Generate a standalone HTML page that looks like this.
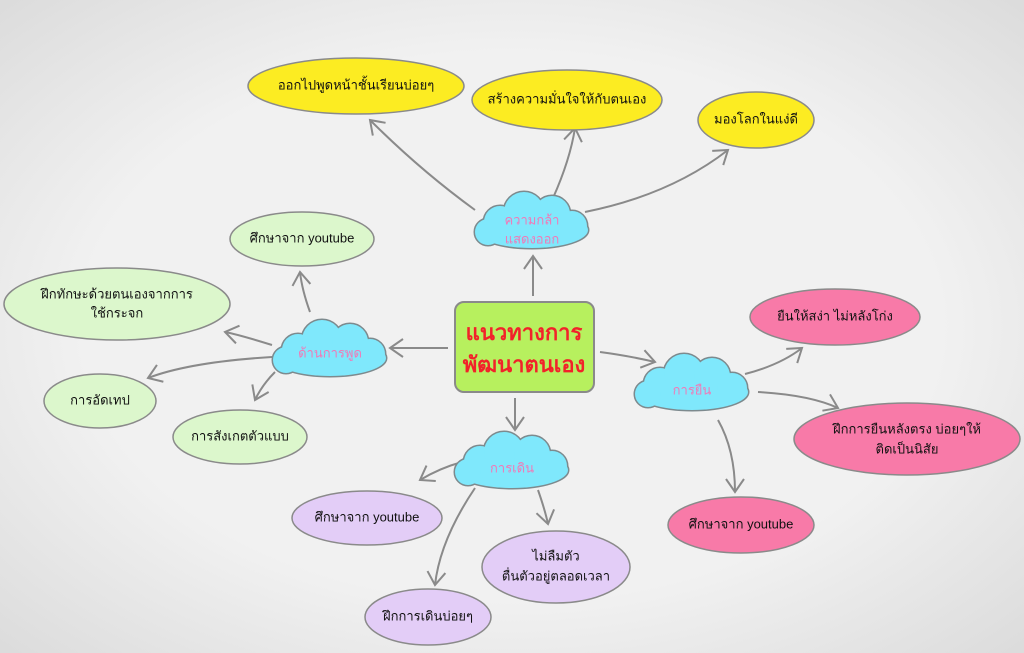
<!DOCTYPE html>
<html><head><meta charset="utf-8"><style>
html,body{margin:0;padding:0;width:1024px;height:653px;overflow:hidden;background:#efefef}
svg text{font-family:"Liberation Sans","DejaVu Sans",sans-serif;text-anchor:middle;dominant-baseline:middle}
</style></head><body>
<svg width="1024" height="653" viewBox="0 0 1024 653" xmlns="http://www.w3.org/2000/svg">
<defs>
<radialGradient id="bg" cx="50%" cy="50%" r="70%"><stop offset="0.6" stop-color="#f1f1f1"/><stop offset="1" stop-color="#dcdcdc"/></radialGradient>
<marker id="a" markerWidth="22" markerHeight="22" refX="15" refY="11" orient="auto" markerUnits="userSpaceOnUse">
<polyline points="2,2 15,11 2,20" fill="none" stroke="#8a8a8a" stroke-width="2"/></marker>
<g id="cl">
<ellipse cx="0" cy="8" rx="56" ry="18"/>
<circle cx="-32" cy="0" r="16"/><circle cx="-8" cy="-10" r="20"/><circle cx="20" cy="-8" r="18"/><circle cx="40" cy="4" r="15"/><circle cx="-44" cy="10" r="13"/>
</g>
</defs>
<rect width="1024" height="653" fill="url(#bg)"/>
<g fill="none" stroke="#8a8a8a" stroke-width="2" marker-end="url(#a)">
<path d="M475 210 Q420 170 370 120"/>
<path d="M553 198 Q570 160 575 128"/>
<path d="M585 212 Q670 195 728 150"/>
<path d="M533 296 L533 256"/>
<path d="M448 348 L390 348"/>
<path d="M600 352 Q630 356 655 362"/>
<path d="M515 398 L515 430"/>
<path d="M310 312 Q302 290 300 272"/>
<path d="M272 345 Q240 335 225 332"/>
<path d="M272 357 Q190 362 148 378"/>
<path d="M275 372 Q262 385 255 400"/>
<path d="M745 374 Q780 365 802 348"/>
<path d="M758 392 Q810 395 838 408"/>
<path d="M718 420 Q735 450 735 492"/>
<path d="M462 462 Q440 468 420 480"/>
<path d="M475 488 Q440 540 435 585"/>
<path d="M538 490 Q545 510 548 524"/>
</g>
<g fill="#7fe8fc" stroke="#7d8a8e" stroke-width="3">
<use href="#cl" transform="translate(532,222)"/>
<use href="#cl" transform="translate(330,350)"/>
<use href="#cl" transform="translate(692,384)"/>
<use href="#cl" transform="translate(512,462)"/>
</g>
<g fill="#7fe8fc" stroke="none">
<use href="#cl" transform="translate(532,222)"/>
<use href="#cl" transform="translate(330,350)"/>
<use href="#cl" transform="translate(692,384)"/>
<use href="#cl" transform="translate(512,462)"/>
</g>
<g fill="#f07ab8" font-size="13">
<text x="532" y="221">ความกล้า</text><text x="532" y="240">แสดงออก</text>
<text x="330" y="354">ด้านการพูด</text>
<text x="692" y="391">การยืน</text>
<text x="512" y="469">การเดิน</text>
</g>
<rect x="455" y="302" width="139" height="90" rx="9" fill="#b7f05e" stroke="#8a8a8a" stroke-width="2"/>
<g fill="#f2222a" font-size="22" font-weight="bold">
<text x="524" y="334">แนวทางการ</text><text x="524" y="366">พัฒนาตนเอง</text>
</g>
<g stroke="#8a8a8a" stroke-width="1.5">
<ellipse cx="356" cy="86" rx="108" ry="28" fill="#fcec22"/>
<ellipse cx="567" cy="100" rx="95" ry="30" fill="#fcec22"/>
<ellipse cx="756" cy="120" rx="58" ry="28" fill="#fcec22"/>
<ellipse cx="302" cy="239" rx="72" ry="27" fill="#dcf7cc"/>
<ellipse cx="117" cy="304" rx="113" ry="36" fill="#dcf7cc"/>
<ellipse cx="100" cy="401" rx="56" ry="27" fill="#dcf7cc"/>
<ellipse cx="240" cy="437" rx="67" ry="27" fill="#dcf7cc"/>
<ellipse cx="835" cy="317" rx="85" ry="28" fill="#f87aa8"/>
<ellipse cx="907" cy="439" rx="113" ry="36" fill="#f87aa8"/>
<ellipse cx="741" cy="525" rx="73" ry="28" fill="#f87aa8"/>
<ellipse cx="367" cy="518" rx="75" ry="27" fill="#e3cdf7"/>
<ellipse cx="556" cy="567" rx="74" ry="36" fill="#e3cdf7"/>
<ellipse cx="428" cy="617" rx="63" ry="28" fill="#e3cdf7"/>
</g>
<g fill="#111" font-size="13">
<text x="356" y="86">ออกไปพูดหน้าชั้นเรียนบ่อยๆ</text>
<text x="567" y="100">สร้างความมั่นใจให้กับตนเอง</text>
<text x="756" y="120">มองโลกในแง่ดี</text>
<text x="302" y="239">ศึกษาจาก youtube</text>
<text x="117" y="295">ฝึกทักษะด้วยตนเองจากการ</text><text x="117" y="314">ใช้กระจก</text>
<text x="100" y="401">การอัดเทป</text>
<text x="240" y="437">การสังเกตตัวแบบ</text>
<text x="835" y="317">ยืนให้สง่า  ไม่หลังโก่ง</text>
<text x="907" y="430">ฝึกการยืนหลังตรง บ่อยๆให้</text><text x="907" y="450">ติดเป็นนิสัย</text>
<text x="741" y="525">ศึกษาจาก youtube</text>
<text x="367" y="518">ศึกษาจาก youtube</text>
<text x="556" y="557">ไม่ลืมตัว</text><text x="556" y="577">ตื่นตัวอยู่ตลอดเวลา</text>
<text x="428" y="617">ฝึกการเดินบ่อยๆ</text>
</g>
</svg>
</body></html>
